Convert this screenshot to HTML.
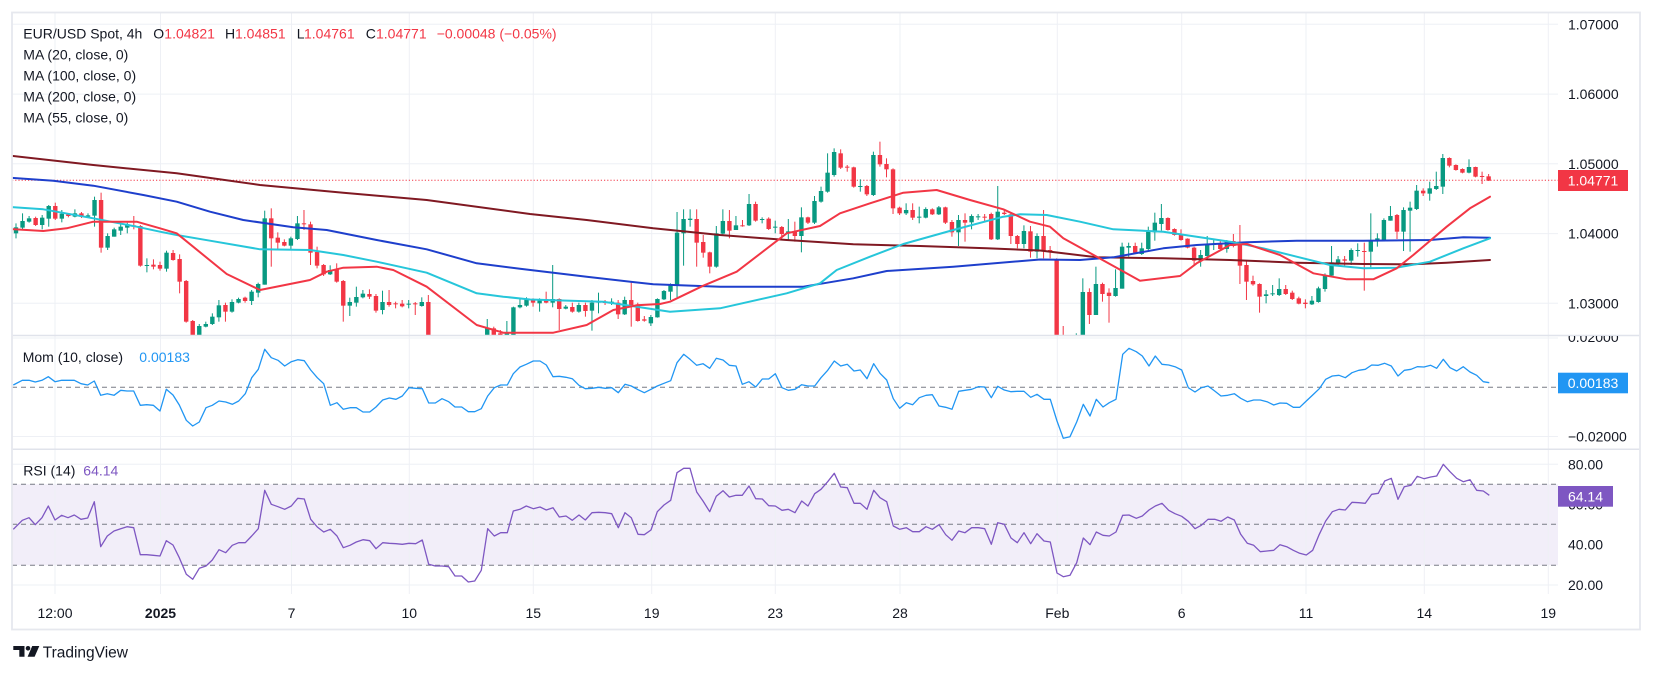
<!DOCTYPE html>
<html><head><meta charset="utf-8">
<style>
html,body{margin:0;padding:0;background:#fff;}
body{width:1653px;height:674px;overflow:hidden;}
svg text{font-family:"Liberation Sans",Arial,sans-serif;}
</style></head>
<body>
<svg id="c" width="1653" height="674" viewBox="0 0 1653 674" xmlns="http://www.w3.org/2000/svg">
<defs>
<clipPath id="cm"><rect x="12" y="13" width="1546" height="322.5"/></clipPath>
<clipPath id="cmo"><rect x="12" y="336" width="1546" height="113"/></clipPath>
<clipPath id="cr"><rect x="12" y="450" width="1546" height="144"/></clipPath>
<clipPath id="cax"><rect x="1558" y="336" width="82" height="113"/></clipPath>
</defs>
<rect x="0" y="0" width="1653" height="674" fill="#fff"/>

<!-- horizontal gridlines -->
<g stroke="#eef0f5" stroke-width="1">
<line x1="12" x2="1558" y1="24.3" y2="24.3"/>
<line x1="12" x2="1558" y1="94.1" y2="94.1"/>
<line x1="12" x2="1558" y1="163.8" y2="163.8"/>
<line x1="12" x2="1558" y1="233.6" y2="233.6"/>
<line x1="12" x2="1558" y1="303.3" y2="303.3"/>
<line x1="12" x2="1558" y1="338" y2="338"/>
<line x1="12" x2="1558" y1="436.5" y2="436.5"/>
<line x1="12" x2="1558" y1="464.3" y2="464.3"/>
<line x1="12" x2="1558" y1="504.3" y2="504.3"/>
<line x1="12" x2="1558" y1="544.3" y2="544.3"/>
<line x1="12" x2="1558" y1="585" y2="585"/>
</g>
<!-- RSI band -->
<rect x="12" y="484.3" width="1546" height="81" fill="#f2eef9"/>
<!-- vertical gridlines -->
<g stroke="#eef0f5" stroke-width="1" id="vg">
<line x1="55" x2="55" y1="13" y2="594"/>
<line x1="160.5" x2="160.5" y1="13" y2="594"/>
<line x1="291.5" x2="291.5" y1="13" y2="594"/>
<line x1="409.3" x2="409.3" y1="13" y2="594"/>
<line x1="533.3" x2="533.3" y1="13" y2="594"/>
<line x1="651.7" x2="651.7" y1="13" y2="594"/>
<line x1="775.3" x2="775.3" y1="13" y2="594"/>
<line x1="900" x2="900" y1="13" y2="594"/>
<line x1="1057.3" x2="1057.3" y1="13" y2="594"/>
<line x1="1181.7" x2="1181.7" y1="13" y2="594"/>
<line x1="1306" x2="1306" y1="13" y2="594"/>
<line x1="1424.3" x2="1424.3" y1="13" y2="594"/>
<line x1="1548.3" x2="1548.3" y1="13" y2="594"/>
</g>
<!-- dashed levels -->
<g stroke="#787b86" stroke-width="1" stroke-dasharray="5 4">
<line x1="12" x2="1558" y1="387.3" y2="387.3"/>
<line x1="12" x2="1558" y1="484.3" y2="484.3"/>
<line x1="12" x2="1558" y1="524.3" y2="524.3"/>
<line x1="12" x2="1558" y1="565.3" y2="565.3"/>
</g>

<!-- current price dotted line -->
<line x1="12" x2="1558" y1="180.3" y2="180.3" stroke="#f23645" stroke-width="1" stroke-dasharray="1.2 2"/>

<g id="candles" clip-path="url(#cm)"></g>
<g id="mas" clip-path="url(#cm)" fill="none" stroke-width="2" stroke-linejoin="round" stroke-linecap="round"></g>
<g id="mom" clip-path="url(#cmo)"></g>
<g id="rsi" clip-path="url(#cr)"></g>

<!-- pane separators -->
<g stroke="#e0e3eb" stroke-width="1.5">
<line x1="12" x2="1640" y1="335.5" y2="335.5"/>
<line x1="12" x2="1640" y1="449.3" y2="449.3"/>
</g>
<!-- frame -->
<rect x="12" y="12.5" width="1628" height="617" fill="none" stroke="#e6e8ee" stroke-width="1.8"/>

<!-- legend -->
<g font-size="14" fill="#131722">
<text x="23.3" y="38.3">EUR/USD Spot, 4h</text>
<text x="153.3" y="38.3">O</text><text x="164.3" y="38.3" fill="#f23645">1.04821</text>
<text x="225" y="38.3">H</text><text x="235" y="38.3" fill="#f23645">1.04851</text>
<text x="296.7" y="38.3">L</text><text x="304" y="38.3" fill="#f23645">1.04761</text>
<text x="365.7" y="38.3">C</text><text x="376" y="38.3" fill="#f23645">1.04771</text>
<text x="436.7" y="38.3" fill="#f23645">−0.00048 (−0.05%)</text>
<text x="23.3" y="59.3">MA (20, close, 0)</text>
<text x="23.3" y="80.3">MA (100, close, 0)</text>
<text x="23.3" y="101.7">MA (200, close, 0)</text>
<text x="23.3" y="122.3">MA (55, close, 0)</text>
<text x="22.7" y="362">Mom (10, close)</text>
<text x="139.3" y="362" fill="#2196f3">0.00183</text>
<text x="23.3" y="475.3">RSI (14)</text>
<text x="83.3" y="475.3" fill="#7e57c2">64.14</text>
</g>

<!-- price axis -->
<g font-size="14" fill="#131722">
<text x="1568" y="29.3">1.07000</text>
<text x="1568" y="99.1">1.06000</text>
<text x="1568" y="168.8">1.05000</text>
<text x="1568" y="238.6">1.04000</text>
<text x="1568" y="308.3">1.03000</text>
<text x="1568" y="342" clip-path="url(#cax)">0.02000</text>
<text x="1568" y="441.5">−0.02000</text>
<text x="1568" y="469.3">80.00</text>
<text x="1568" y="509.3">60.00</text>
<text x="1568" y="549.3">40.00</text>
<text x="1568" y="590">20.00</text>
</g>
<rect x="1558" y="170" width="70" height="21" fill="#f23645"/>
<text x="1593" y="185.5" font-size="14" fill="#fff" text-anchor="middle">1.04771</text>
<rect x="1558" y="372.7" width="70" height="20.6" fill="#2196f3"/>
<text x="1593" y="388" font-size="14" fill="#fff" text-anchor="middle">0.00183</text>
<rect x="1558" y="486" width="55" height="20.7" fill="#7e57c2"/>
<text x="1585.5" y="501.3" font-size="14" fill="#fff" text-anchor="middle">64.14</text>

<!-- time axis -->
<g font-size="14" fill="#131722" text-anchor="middle">
<text x="55" y="618">12:00</text>
<text x="160.5" y="618" font-weight="bold">2025</text>
<text x="291.5" y="618">7</text>
<text x="409.3" y="618">10</text>
<text x="533.3" y="618">15</text>
<text x="651.7" y="618">19</text>
<text x="775.3" y="618">23</text>
<text x="900" y="618">28</text>
<text x="1057.3" y="618">Feb</text>
<text x="1181.7" y="618">6</text>
<text x="1306" y="618">11</text>
<text x="1424.3" y="618">14</text>
<text x="1548.3" y="618">19</text>
</g>

<!-- TradingView logo -->
<g fill="#131722">
<path d="M13.3 646 H24.5 V656.7 H19.3 V650 H13.3 Z"/>
<circle cx="28" cy="648.3" r="2.3"/>
<path d="M32.2 646 H39.3 L34.6 656.7 H27.6 Z"/>
</g>
<text x="42.7" y="657.5" font-size="15.5" fill="#131722">TradingView</text>
</svg>

<script>
(function(){
var NS="http://www.w3.org/2000/svg";
function el(t,a,p){var e=document.createElementNS(NS,t);for(var k in a)e.setAttribute(k,a[k]);p.appendChild(e);return e;}
var D="g 322 340 310 355;g 303 323 280 330;g 295 305 288 308;r 294 315 290 318;g 293 315 285 328;g 258 296 255 320;r 258 296 248 300;g 281 296 270 307;r 283 288 280 292;g 280 290 268 292;r 280 290 276 294;g 286 290 280 294;g 240 287 230 320;r 240 383 218 398;g 348 383 340 390;g 328 350 323 350;g 320 332 312 345;g 313 323 308 340;r 316 320 288 328;r 318 437 315 440;g 435 438 415 457;r 434 440 418 448;r 435 446 425 452;g 398 446 392 455;r 399 420 390 422;r 417 485 403 520;r 483 605 480 608;r 603 680 600 690;g 618 680 612 690;g 612 620 605 622;g 590 612 580 615;g 556 592 540 605;r 555 575 548 605;g 546 575 538 578;g 537 548 533 550;r 533 543 530 548;g 515 543 510 555;g 492 518 488 532;g 295 494 272 494;r 295 355 265 440;r 353 368 337 387;r 366 377 358 379;g 355 377 350 388;g 310 357 288 360;r 310 313 270 330;r 313 398 305 435;r 396 437 380 445;r 435 463 432 468;g 450 463 436 465;r 447 485 430 488;r 483 557 480 605;g 546 557 533 588;g 531 548 500 560;g 521 532 510 535;r 522 530 508 537;r 528 572 522 578;g 546 570 512 583;r 546 555 510 560;r 550 553 545 565;r 551 559 540 562;g 551 553 540 565;r 550 552 546 585;g 546 558 532 560;r 546 700 525 710;r 700 720 690 730;g 700 720 690 730;r 700 740 695 750;r 740 760 730 770;g 730 760 720 770;r 730 750 720 760;g 700 750 690 760;g 680 700 670 710;g 625 680 597 690;r 625 660 620 670;r 640 655 630 665;g 640 660 603 670;g 562 660 560 670;g 555 562 535 565;g 537 557 532 560;"+
"r 537 548 535 560;g 537 550 535 575;r 537 548 515 550;g 537 548 435 562;r 537 567 535 630;g 560 566 555 568;r 561 575 548 578;g 555 575 548 578;r 555 573 548 590;g 548 572 540 632;g 545 548 518 580;r 545 549 540 555;g 545 548 535 555;r 548 583 540 597;g 540 583 530 585;r 540 555 487 620;r 553 603 548 605;r 598 602 588 605;g 591 610 585 618;g 537 592 535 593;g 513 538 510 540;g 495 515 490 540;g 338 497 276 532;g 297 340 268 437;g 296 300 268 320;r 297 368 268 440;r 366 398 345 413;r 397 440 395 460;g 340 440 318 443;g 303 341 268 343;r 303 332 270 355;g 316 330 288 330;r 316 318 300 320;g 252 316 222 318;r 252 302 245 305;g 297 300 292 310;r 296 327 292 330;g 320 322 302 340;r 321 342 318 355;g 334 340 297 360;r 333 348 305 365;g 292 348 262 397;r 292 308 290 312;g 243 308 228 312;g 213 245 200 248;g 158 215 100 218;g 96 165 85 170;r 100 143 88 147;r 140 142 135 155;r 142 200 140 203;g 198 200 178 215;r 198 223 195 228;g 105 225 95 228;r 105 133 65 140;r 132 148 115 172;r 148 265 145 282;r 263 280 260 285;g 270 280 250 285;r 270 293 250 300;g 290 292 260 310;g 267 293 262 295;r 268 283 265 285;g 262 283 258 285;r 262 308 260 312;r 306 337 300 350;g 300 337 285 378;r 300 308 280 365;g 288 307 283 328;g 289 292 282 300;r 290 292 282 305;r 282 358 278 360;g 275 358 198 360;r 278 282 270 285;r 283 348 280 372;r 348 372 345 385;g 333 372 316 385;r 334 395 318 413;g 348 395 340 415;"+
"r 348 393 270 415;r 390 393 378 415;r 418 700 415 720;r 680 710 618 720;g 690 710 680 720;g 670 690 640 700;g 516 690 475 700;r 516 585 505 612;g 492 585 440 585;r 492 522 488 545;r 518 528 505 608;g 504 528 448 530;g 380 506 368 506;g 378 383 368 410;r 378 398 368 400;g 385 402 368 405;g 335 387 320 390;g 308 337 278 362;g 294 312 252 332;r 294 330 292 332;r 327 345 325 347;r 342 360 328 362;r 356 383 355 385;r 383 422 380 435;g 405 422 390 440;g 372 408 348 412;g 372 375 360 390;r 372 387 360 390;g 363 387 360 398;r 363 378 342 382;r 370 437 315 492;r 435 485 422 540;r 483 493 467 497;r 492 530 490 578;g 523 528 510 550;g 520 523 495 528;g 507 525 475 528;r 507 522 495 525;r 518 537 512 540;r 535 551 530 553;r 548 552 538 565;g 542 553 528 555;g 505 546 500 548;g 465 507 460 515;g 427 467 378 470;g 418 432 408 435;r 418 422 408 437;g 390 422 385 435;g 390 393 370 410;r 393 395 368 512;g 360 395 280 442;g 355 360 340 380;g 300 360 295 362;g 288 302 258 302;r 285 335 282 357;g 270 335 262 393;g 263 272 245 395;g 212 267 195 270;r 212 220 205 228;g 205 221 185 242;g 198 207 155 210;g 114 200 102 222;r 114 137 112 142;r 135 150 133 152;r 147 158 145 160;g 141 158 118 160;r 141 170 140 172;r 168 170 155 192;r 169 182 162 183";
var cg=document.getElementById("candles");
var arr=D.split(";");
for(var i=0;i<arr.length;i++){
  var p=arr[i].trim().split(/\s+/);if(p.length<5)continue;
  var col=p[0]=="g"?"#089981":"#f23645";
  var bt=120+(+p[1])/3,bb=120+(+p[2])/3,wt=120+(+p[3])/3,wb=120+(+p[4])/3;
  var x=16+i*6.545;
  el("line",{x1:x,x2:x,y1:wt,y2:wb,stroke:col,"stroke-width":1},cg);
  var h=Math.max(1,bb-bt);
  el("rect",{x:x-2.2,y:bt,width:4.4,height:h,fill:col},cg);
}
var MA={
"#801922":[[10,155.7],[93.3,165],[176.7,173.3],[260,185],[343.3,192.7],[426.7,200],[530,214],[586.7,220],[653.3,228.3],[720,235],[786.7,240],[853.3,244.3],[920,246],[986.7,248.3],[1040,250.5],[1063.3,253.3],[1096.7,257.3],[1163.3,258.3],[1230,260],[1296.7,262.7],[1363.3,264],[1413.3,264.3],[1446.7,262.7],[1490,260]],
"#1e3fcc":[[10,177.7],[53.3,180.7],[93.3,185.7],[143.3,195],[176.7,201.7],[210,211.7],[243.3,220],[293.3,227.3],[326.7,230],[376.7,240],[426.7,249.3],[476.7,263.3],[520,268.7],[586.7,276.7],[653.3,284.3],[720,286.7],[803.3,286.7],[853.3,278.3],[886.7,271],[953.3,266.7],[1040,259.5],[1080,260],[1113.3,257.3],[1163.3,248.3],[1196.7,245],[1246.7,242.3],[1296.7,240.7],[1363.3,240.7],[1430,240],[1463.3,237.3],[1490,237.7]],
"#26c6da":[[10,207],[43.3,209.3],[93.3,218.3],[136.7,226.7],[160,231.7],[176.7,235],[210,240.7],[260,249.3],[310,250],[343.3,255],[376.7,261.7],[426.7,272.7],[476.7,293.3],[503.3,296.7],[530,299.5],[603.3,301.7],[636.7,306.7],[670,311.7],[720,308.3],[786.7,293.3],[820,283.3],[836.7,270],[870,256.7],[903.3,244],[953.3,230],[1003.3,216.7],[1020,214.3],[1046.7,215],[1080,221.7],[1113.3,229.3],[1163.3,231.7],[1196.7,236.7],[1230,241.7],[1263.3,248.3],[1296.7,256.7],[1330,265],[1363.3,268.3],[1396.7,267.7],[1430,261.7],[1463.3,248.3],[1490,238.3]],
"#f23645":[[10,229],[43.3,231],[66.7,228.3],[93.3,221.7],[136.7,221.7],[160,228.3],[176.7,233.3],[226.7,274],[260,290],[310,280],[326.7,271.7],[343.3,267.7],[376.7,266.7],[393.3,270],[426.7,286.7],[476.7,325],[503.3,332.7],[553.3,332.7],[586.7,325],[613.3,310],[636.7,305.3],[660,304],[670,301.7],[703.3,285.7],[736.7,271.7],[786.7,233.3],[820,226],[840,213.3],[870,203.3],[903.3,192.7],[936.7,190],[970,200],[1003.3,209.3],[1030,221.7],[1050,226.7],[1063.3,238.3],[1096.7,256.7],[1140,280.7],[1180,276],[1196.7,263.3],[1230,245],[1246.7,244],[1280,255],[1313.3,273.3],[1346.7,279.3],[1373.3,279.3],[1396.7,268.3],[1413.3,255],[1446.7,226.7],[1470,208.3],[1490,196.7]]
};
var mg=document.getElementById("mas");
for(var c in MA){
  el("polyline",{points:MA[c].map(function(q){return q[0]+","+q[1];}).join(" "),stroke:c},mg);
}
function merge(segs){
  var out=[],last=-1e9;
  for(var s=0;s<segs.length;s++){
    var x0=segs[s][0],pts=segs[s][1];
    for(var j=0;j<pts.length;j+=2){
      var x=x0+pts[j]/3,y=336+pts[j+1]/3;
      if(x>last+0.5){out.push(x.toFixed(1)+","+y.toFixed(1));last=x;}
    }
  }
  return out.join(" ");
}
var mom=[[10,[10,147,37,133,57,133,76,138,96,133,115,122,135,137,155,133,174,133,193,133,213,143,233,147,253,135,272,178,292,173,312,178,332,163,351,165,371,165,391,208,410,206,430,208,450,225,469,160,489,177,508,207,529,253,548,270,568,258,588,215,607,208,627,195,647,198,667,205,686,195,706,173,725,125,745,100,764,40,784,65,804,73,824,90,844,77,863,71,883,74,902,102,922,125,941,143,961,208,981,200,1000,220,1020,215,1039,215,1059,228,1079,228,1098,213,1118,192,1138,186,1158,190,1177,180,1197,155,1217,157,1237,158,1256,201,1276,201,1296,188,1316,197,1335,213,1355,213,1375,227,1394,227,1414,218,1433,180,1453,155,1472,147,1492,147,1510,113,1530,93,1549,85]],
[520,[0,93,20,87,40,75,60,75,79,87,99,122,118,121,138,124,157,128,177,148,196,158,216,157,236,154,256,157,275,155,295,170,315,145,334,150,354,161,373,170,393,160,412,150,432,142,452,134,471,80,491,55,510,70,530,88,549,83,569,97,589,67,609,72,628,88,648,90,667,145,687,137,707,153,727,129,746,129,766,113,786,155,805,163,825,160,845,146,864,150,884,150,903,125,923,103,943,75,962,90,982,85,1002,105,1021,102,1041,128,1061,83,1080,112,1100,132,1120,188,1139,217,1159,200,1178,206,1198,185,1218,178,1237,176,1257,210,1277,214,1296,220,1316,166,1335,163,1355,160,1375,152,1394,153,1414,185,1433,151,1453,162,1473,167,1492,166,1512,166,1532,184]],
[1030,[21,175,42,190,61,190,81,255,100,307,120,302,140,258,160,205,180,240,199,190,219,213,238,200,258,190,278,55,297,37,319,47,337,60,357,90,376,60,396,85,416,87,435,92,455,102,475,155,495,168,514,155,534,150,554,165,573,180,593,178,613,173,632,187,652,197,671,192,691,192,711,197,731,207,750,201,770,202,790,214,809,214,829,195,848,177,868,158,887,130,907,120,927,118,946,125,966,110,986,103,1006,100,1025,87,1045,88,1064,82,1084,90,1104,120,1123,103,1143,100,1162,92,1182,93,1202,88,1220,97,1240,70,1260,95,1280,105,1300,92,1320,108,1340,118,1360,137,1378,140]]];
var rsi=[[10,[10,580,37,553,57,545,76,566,96,545,115,510,135,552,155,538,174,545,193,537,213,550,233,546,253,497,272,632,292,600,312,585,332,578,351,572,371,575,391,656,410,656,430,658,450,660,469,614,489,627,508,665,529,715,548,730,568,697,588,690,607,672,627,641,647,650,667,628,686,620,706,620,725,600,745,578,764,463,784,505,804,512,824,520,844,510,863,487,883,489,902,550,922,573,941,588,961,580,981,600,1000,635,1020,628,1039,618,1059,611,1079,614,1098,638,1118,620,1138,622,1158,623,1177,625,1197,622,1217,623,1237,612,1256,685,1276,690,1296,690,1316,692,1335,720,1355,720,1375,738,1394,735,1414,703,1433,578,1453,600,1472,590,1492,590,1510,525,1530,520,1549,510]],
[520,[0,522,20,510,40,518,60,513,79,522,99,515,118,543,138,540,157,553,177,537,196,552,216,530,236,529,256,530,275,533,295,575,315,530,334,545,354,595,373,596,393,582,412,527,432,507,452,493,471,410,491,397,510,397,530,468,549,495,569,527,589,481,609,464,628,483,648,478,667,478,687,450,707,488,727,489,746,509,766,510,786,523,805,520,825,530,845,495,864,510,884,473,903,460,923,437,943,412,962,453,982,455,1002,502,1021,502,1041,520,1061,463,1080,485,1100,497,1120,570,1139,580,1159,575,1178,587,1198,587,1218,572,1237,580,1257,566,1277,596,1296,613,1316,585,1335,590,1355,575,1375,575,1394,578,1414,625,1433,560,1453,565,1473,606,1492,620,1512,590,1532,623]],
[1030,[21,593,42,615,61,618,81,711,100,722,120,718,140,680,160,606,180,626,199,588,219,598,238,600,258,588,278,538,297,537,319,547,337,540,357,522,376,510,396,502,416,523,435,533,455,541,475,556,495,578,514,568,534,550,554,550,573,556,593,543,613,552,632,595,652,622,671,628,691,647,711,645,731,643,750,626,770,632,790,643,809,652,829,657,848,643,868,595,887,555,907,527,927,520,946,522,966,499,986,500,1006,502,1025,475,1045,472,1064,435,1084,427,1104,490,1123,452,1143,448,1162,421,1182,428,1202,423,1220,420,1240,385,1260,407,1280,427,1300,437,1320,431,1340,463,1360,465,1378,478]]];
el("polyline",{points:merge(mom),fill:"none",stroke:"#2196f3","stroke-width":1.3,"stroke-linejoin":"round"},document.getElementById("mom"));
el("polyline",{points:merge(rsi),fill:"none",stroke:"#7e57c2","stroke-width":1.3,"stroke-linejoin":"round"},document.getElementById("rsi"));
})();
</script>
</body></html>
